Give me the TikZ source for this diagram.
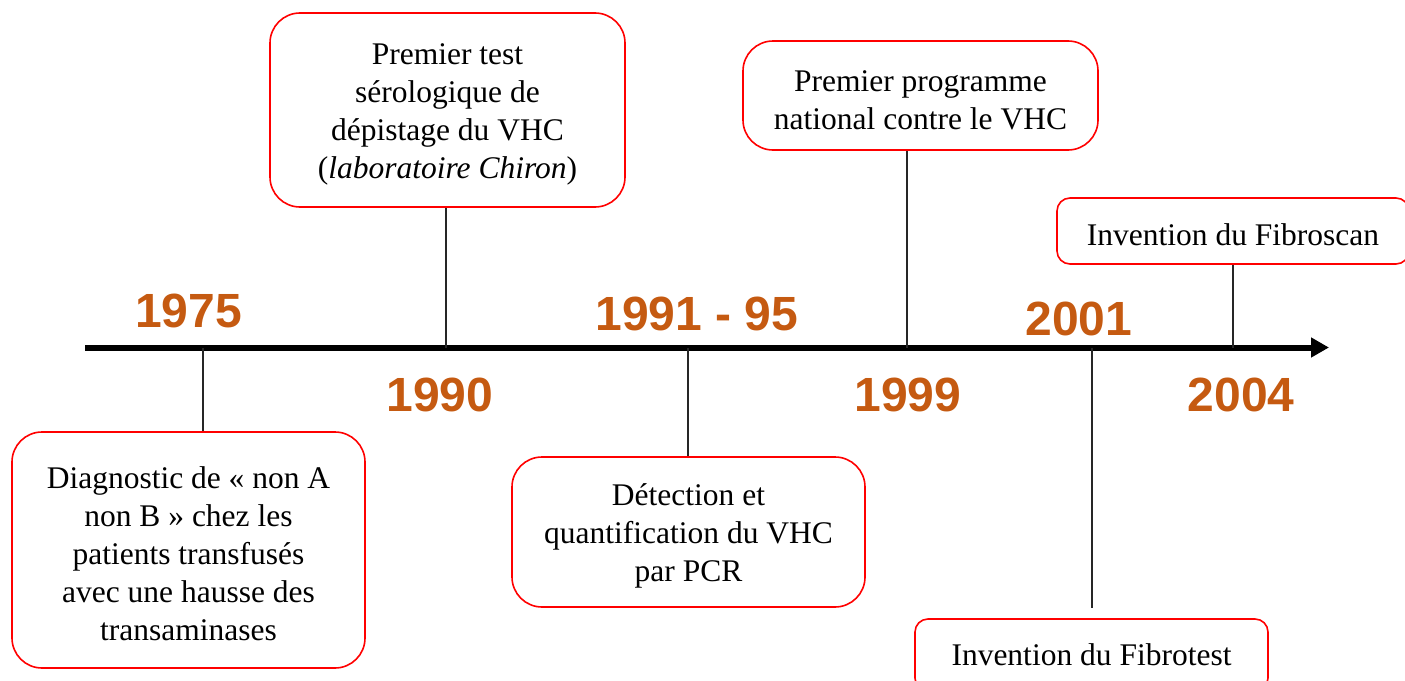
\documentclass[tikz,border=0pt]{standalone}
\usepackage{fontspec}
\setmainfont{Liberation Serif}
\newfontfamily\yearfont{Liberation Sans}
\usetikzlibrary{arrows.meta}
\definecolor{yearcol}{HTML}{C55A11}
\definecolor{boxred}{HTML}{FF0000}
\newcommand{\topstrut}{\rule{0pt}{30pt}}
\tikzset{
  evbox/.style={draw=boxred, line width=1.6pt, rounded corners=#1, align=center, inner sep=0pt,
    font=\fontsize{31.5}{38}\selectfont},
  evbox/.default=30pt,
  year/.style={text=yearcol, font=\yearfont\bfseries\fontsize{48}{50}\selectfont, inner sep=0pt},
  conn/.style={draw=black!85, line width=1.1pt},
  axisline/.style={line width=6pt, -{Triangle[length=18pt,width=19pt]}}
}
\begin{document}
\begin{tikzpicture}[x=1pt,y=-1pt]
\useasboundingbox (0,0) rectangle (1405,680);
\clip (0,0) rectangle (1405,680);
% axis
\coordinate (axL) at (85,347.5);
\coordinate (axR) at (1329,347.5);
\draw[axisline] (axL) -- (axR);
% boxes
\node[evbox, minimum width=353pt, minimum height=236pt] (diag) at (188.5,550)
  {\topstrut Diagnostic de « non A\\non B » chez les\\patients transfusés\\avec une hausse des\\transaminases};
\node[evbox, minimum width=355pt, minimum height=194pt] (sero) at (447.5,110)
  {\topstrut Premier test\\sérologique de\\dépistage du VHC\\(\textit{laboratoire Chiron})};
\node[evbox, minimum width=353pt, minimum height=150pt] (pcr) at (688.5,532)
  {\topstrut Détection et\\quantification du VHC\\par PCR};
\node[evbox, minimum width=355pt, minimum height=109pt] (prog) at (920.5,95.5)
  {\topstrut Premier programme\\national contre le VHC};
\node[evbox=13pt, minimum width=352pt, minimum height=66pt] (scan) at (1233,231)
  {\topstrut Invention du Fibroscan};
\node[evbox=13pt, minimum width=353pt, minimum height=72pt] (test) at (1091.5,655)
  {Invention du Fibrotest};
% years
\node[year] (y75) at (188.5,310.5) {1975};
\node[year] (y90) at (440,394.5) {1990};
\node[year] (y91) at (697,314) {1991 - 95};
\node[year] (y99) at (908,395) {1999};
\node[year] (y01) at (1079,318.5) {2001};
\node[year] (y04) at (1241,395) {2004};
% ticks on axis
\coordinate (t75) at (203,347.5);
\coordinate (t90) at (446,347.5);
\coordinate (t91) at (688,347.5);
\coordinate (t99) at (907,347.5);
\coordinate (t01) at (1092,347.5);
\coordinate (t04) at (1233,347.5);
\coordinate (e01) at (1092,608);
% connectors
\draw[conn] (t75) -- (t75 |- diag.north);
\draw[conn] (t90) -- (t90 |- sero.south);
\draw[conn] (t91) -- (t91 |- pcr.north);
\draw[conn] (t99) -- (t99 |- prog.south);
\draw[conn] (t01) -- (e01);
\draw[conn] (t04) -- (t04 |- scan.south);
\end{tikzpicture}
\end{document}
